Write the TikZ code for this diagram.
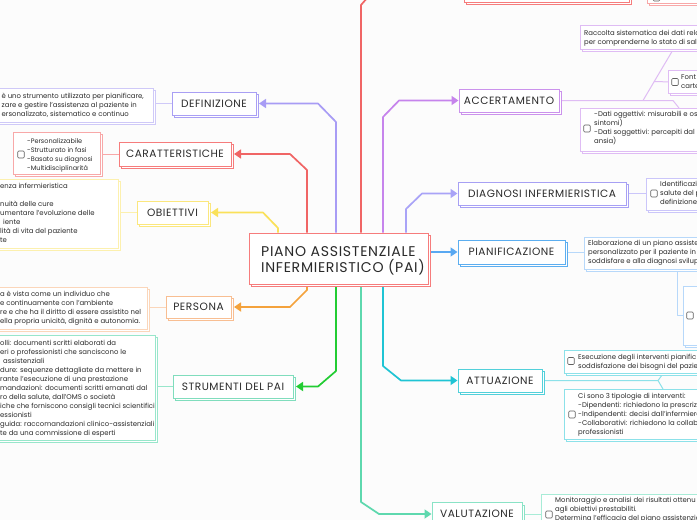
\documentclass[tikz,border=0pt]{standalone}
\usepackage{fontspec}
\setmainfont{Poppins}
\newfontfamily\labfont{Poppins}[LetterSpace=5]
\usetikzlibrary{arrows.meta,shadows,backgrounds}
\definecolor{bgc}{HTML}{FCFCFC}
\definecolor{ink}{HTML}{2A2A2A}
\definecolor{chk}{HTML}{606060}
\definecolor{redL}{HTML}{F06565}
\definecolor{redB}{HTML}{F67C7C}
\definecolor{redD}{HTML}{F8A8A8}
\definecolor{lavL}{HTML}{A89CF5}
\definecolor{lavB}{HTML}{A99FF4}
\definecolor{lavD}{HTML}{CFC9F8}
\definecolor{yelL}{HTML}{FAE15A}
\definecolor{yelB}{HTML}{FBE77E}
\definecolor{yelD}{HTML}{FCF0AE}
\definecolor{oraL}{HTML}{F4A23C}
\definecolor{oraB}{HTML}{F8BE92}
\definecolor{oraD}{HTML}{FBD6BA}
\definecolor{grnL}{HTML}{22CC33}
\definecolor{mntB}{HTML}{80DDBD}
\definecolor{mntD}{HTML}{98E6CB}
\definecolor{valL}{HTML}{5ED8AE}
\definecolor{valB}{HTML}{8AE3C6}
\definecolor{valD}{HTML}{A8ECD7}
\definecolor{cyaL}{HTML}{1FC4D4}
\definecolor{cyaB}{HTML}{52D0DA}
\definecolor{cyaD}{HTML}{8CE1E9}
\definecolor{bluL}{HTML}{58A8F2}
\definecolor{bluB}{HTML}{5CAEF0}
\definecolor{bluD}{HTML}{B7D8FA}
\definecolor{dlaL}{HTML}{A9A3F7}
\definecolor{dlaB}{HTML}{A7A0F4}
\definecolor{dlaD}{HTML}{CBC6FA}
\definecolor{orcL}{HTML}{C684EC}
\definecolor{orcB}{HTML}{CB92EC}
\definecolor{orcD}{HTML}{DFBCF4}
\newcommand\mlines[2][6.9]{\parbox[t]{420pt}{\raggedright\fontsize{#1}{9}\selectfont #2}}
\tikzset{
  lab/.style={draw=#1, fill=white, line width=1pt, inner sep=0, text=ink,
    font=\labfont\fontsize{10.6}{12}\selectfont,
    general shadow={shadow xshift=2.5pt, shadow yshift=-2.5pt, draw=#1, fill=white, line width=1pt}},
  det/.style={draw=#1, fill=white, line width=0.8pt, inner sep=0, anchor=north west,
    general shadow={shadow xshift=2pt, shadow yshift=-2pt, draw=#1, fill=white, line width=0.8pt}},
  txt/.style={anchor=base west, inner sep=0, text=ink},
  chkbox/.style={draw=chk, fill=white, line width=0.6pt, rounded corners=1pt, minimum width=6.5pt, minimum height=7pt, inner sep=0},
  mainline/.style={line width=1.7pt, line join=round},
  conn/.style={mainline, -{Triangle[length=7pt,width=9pt]}},
  sub/.style={line width=1pt, line join=round},
}
\begin{document}
\begin{tikzpicture}[x=1pt,y=-1pt]
\useasboundingbox (0,0) rectangle (697,520);

% central node
\node[lab=redB, minimum width=179pt, minimum height=51pt] (pai) at (338.5,258.5) {};
\node[txt] (paitxt) at (261,256) {\parbox[t]{300pt}{\raggedright\labfont\fontsize{14.1}{16}\selectfont PIANO ASSISTENZIALE\\INFERMIERISTICO (PAI)}};

% branch labels
\node[lab=lavB, minimum width=84pt, minimum height=23pt] (def) at (214,103.5) {DEFINIZIONE};
\node[lab=redB, minimum width=112pt, minimum height=24pt] (car) at (175,154) {CARATTERISTICHE};
\node[lab=yelB, minimum width=71pt, minimum height=23pt] (obi) at (172.5,212.5) {OBIETTIVI};
\node[lab=oraB, minimum width=65pt, minimum height=22pt] (per) at (198.5,307) {PERSONA};
\node[lab=mntB, minimum width=120pt, minimum height=23pt] (str) at (233,386.5) {STRUMENTI DEL PAI};
\node[lab=orcB, minimum width=100pt, minimum height=23pt] (acc) at (509,100.5) {ACCERTAMENTO};
\node[lab=dlaB, minimum width=168pt, minimum height=23pt] (dia) at (542,193.5) {DIAGNOSI INFERMIERISTICA};
\node[lab=bluB, minimum width=107pt, minimum height=24pt] (pia) at (511.5,252) {PIANIFICAZIONE};
\node[lab=cyaB, minimum width=84pt, minimum height=23pt] (att) at (500,380.5) {ATTUAZIONE};
\node[lab=valB, minimum width=90pt, minimum height=23pt] (val) at (477,514) {VALUTAZIONE};

% top partial boxes
\node[det=redB, minimum width=165pt, minimum height=25pt] (topa) at (464,-23) {};
\node[det=redD, minimum width=60pt, minimum height=26pt] (topb) at (647,-23) {};
\node[chkbox] (topbc) at (656.5,-2.5) {};

% left detail boxes
\node[det=lavD, minimum width=158pt, minimum height=34pt] (defd) at (-5,88) {};
\node[txt] (defdt) at (1.5,98) {\mlines{è uno strumento utilizzato per pianificare,\\zare e gestire l'assistenza al paziente in\\ersonalizzato, sistematico e continuo}};

\node[det=redD, minimum width=87pt, minimum height=42pt] (card) at (13,132) {};
\node[chkbox] (cardc) at (21,154.5) {};
\node[txt] (cardt) at (27,143) {\mlines[6.5]{-Personalizzabile\\-Strutturato in fasi\\-Basato su diagnosi\\-Multidisciplinarità}};

\node[det=yelD, minimum width=123pt, minimum height=69pt] (obid) at (-5,179) {};
\node[txt] (obidt) at (0,188.5) {\mlines{enza infermieristica\\\mbox{}\\nuità delle cure\\umentare l'evoluzione delle\\\hspace*{3pt}iente\\lità di vita del paziente\\te}};

\node[det=oraD, minimum width=152pt, minimum height=42pt] (perd) at (-5,287) {};
\node[txt] (perdt) at (0,296.5) {\mlines{a è vista come un individuo che\\e continuamente con l'ambiente\\re e che ha il diritto di essere assistito nel\\ella propria unicità, dignità e autonomia.}};

\node[det=mntD, minimum width=160pt, minimum height=105pt] (strd) at (-5,335) {};
\node[txt] (strdt) at (0,345.5) {\mlines{olli: documenti scritti elaborati da\\eri o professionisti che sanciscono le\\\hspace*{3pt}assistenziali\\dure: sequenze dettagliate da mettere in\\rante l'esecuzione di una prestazione\\mandazioni: documenti scritti emanati dal\\ro della salute, dall'OMS o società\\iche che forniscono consigli tecnici scientifici\\essionisti\\guida: raccomandazioni clinico-assistenziali\\te da una commissione di esperti}};

% right detail boxes
\node[det=orcD, minimum width=130pt, minimum height=24pt] (acc1) at (580,25) {};
\node[txt] (acc1t) at (584,35.5) {\mlines{Raccolta sistematica dei dati rela\\per comprenderne lo stato di sal}};
\node[det=orcD, minimum width=50pt, minimum height=23pt] (acc2) at (668,70) {};
\node[chkbox] (acc2c) at (675,82) {};
\node[txt] (acc2t) at (681,79.5) {\mlines{Font\\carte}};
\node[det=orcD, minimum width=130pt, minimum height=43pt] (acc3) at (580,108) {};
\node[chkbox] (acc3c) at (587,128.5) {};
\node[txt] (acc3t) at (594,116.5) {\mlines{-Dati oggettivi: misurabili e os\\sintomi)\\-Dati soggettivi: percepiti dal p\\ansia)}};

\node[det=dlaD, minimum width=70pt, minimum height=32pt] (diad) at (646,178) {};
\node[chkbox] (diadc) at (654,193.5) {};
\node[txt] (diadt) at (660,186.5) {\mlines{Identificazi\\salute del p\\definizione}};

\node[det=bluD, minimum width=130pt, minimum height=32pt] (pia1) at (584,237) {};
\node[txt] (pia1t) at (588,245.5) {\mlines{Elaborazione di un piano assiste\\personalizzato per il paziente in\\soddisfare e alla diagnosi svilup}};
\node[det=bluD, minimum width=30pt, minimum height=59pt] (pia2) at (683,286) {};
\node[chkbox] (pia2c) at (690,315.5) {};

\node[det=cyaD, minimum width=150pt, minimum height=23pt] (att1) at (564,350) {};
\node[chkbox] (att1c) at (571,361) {};
\node[txt] (att1t) at (578,359.5) {\mlines{Esecuzione degli interventi pianific\\soddisfazione dei bisogni del pazie}};
\node[det=cyaD, minimum width=150pt, minimum height=50pt] (att2) at (564,389) {};
\node[chkbox] (att2c) at (572,414.5) {};
\node[txt] (att2t) at (578,398.5) {\mlines{Ci sono 3 tipologie di interventi:\\-Dipendenti: richiedono la prescrizi\\-Indipendenti: decisi dall'infermiere\\-Collaborativi: richiedono la collab\\professionisti}};

\node[det=valD, minimum width=170pt, minimum height=50pt] (vald) at (541,494) {};
\node[chkbox] (valdc) at (549,514.5) {};
\node[txt] (valdt) at (555,502.5) {\mlines{Monitoraggio e analisi dei risultati ottenu\\agli obiettivi prestabiliti.\\Determina l'efficacia del piano assistenzia}};

\begin{pgfonlayer}{background}
\fill[bgc] (0,0) rectangle (697,520);
% main connectors
\coordinate (defA) at (336,122); \coordinate (defB) at (318,103.5);
\draw[conn, lavL] (pai.north -| defA) -- (defA) -- (defB) -- ([xshift=2.5pt]def.east);
\coordinate (carA) at (307,170); \coordinate (carB) at (290,154);
\draw[conn, redL] (pai.north -| carA) -- (carA) -- (carB) -- ([xshift=2.5pt]car.east);
\coordinate (obiA) at (278,228); \coordinate (obiB) at (263,212.5);
\draw[conn, yelL] (pai.north -| obiA) -- (obiA) -- (obiB) -- ([xshift=2.5pt]obi.east);
\coordinate (topA) at (361,5); \coordinate (topB) at (368,-3);
\draw[mainline, redL] (pai.north -| topA) -- (topA) -- (topB);
\coordinate (accA) at (383,117); \coordinate (accB) at (399,100.5);
\draw[conn, orcL] (pai.north -| accA) -- (accA) -- (accB) -- (acc.west);
\coordinate (diaA) at (406,209); \coordinate (diaB) at (422,193.5);
\draw[conn, dlaL] (pai.north -| diaA) -- (diaA) -- (diaB) -- (dia.west);
\draw[conn, bluL] (pai.east |- pia.west) -- (pia.west);
\coordinate (attA) at (383,366); \coordinate (attB) at (401,380.5);
\draw[conn, cyaL] (pai.south -| attA) -- (attA) -- (attB) -- (att.west);
\coordinate (valA) at (361,502); \coordinate (valB) at (379,514);
\draw[conn, valL] (pai.south -| valA) -- (valA) -- (valB) -- (val.west);
\coordinate (strA) at (336,371); \coordinate (strB) at (318,386.5);
\draw[conn, grnL] (pai.south -| strA) -- (strA) -- (strB) -- ([xshift=2.5pt]str.east);
\coordinate (perA) at (307,290); \coordinate (perB) at (290,307);
\draw[conn, oraL] (pai.south -| perA) -- (perA) -- (perB) -- ([xshift=2.5pt]per.east);
% sub connectors
\draw[sub, lavD] (defd.east |- def.west) -- (def.west);
\draw[sub, redD] (card.east |- car.west) -- (car.west);
\draw[sub, yelD] (obid.east |- obi.west) -- (obi.west);
\draw[sub, oraD] (perd.east |- per.west) -- (per.west);
\draw[sub, mntD] (strd.east |- str.west) -- (str.west);
\coordinate (accJ) at (643,100.5); \coordinate (accE) at (673,100.5); \coordinate (accM) at (653.8,81.5);
\draw[sub, orcD] (acc.east) -- (accE) -- ([xshift=99pt]acc3.north west);
\draw[sub, orcD] (accJ) -- ([xshift=93pt]acc1.south west);
\draw[sub, orcD] (accM) -- (acc2.west);
\draw[sub, dlaD] (dia.east) -- (diad.west |- dia.east);
\draw[sub, bluD] (pia.east) -- (pia1.west |- pia.east);
\coordinate (piaJ) at (677,315.5);
\draw[sub, bluD] ([xshift=93pt]pia1.south west) -- (piaJ) -- (pia2.west |- piaJ);
\coordinate (attJ) at (658,380.5);
\draw[sub, cyaD] (att.east) -- (attJ) -- ([xshift=99pt]att1.south west);
\draw[sub, cyaD] (attJ) -- ([xshift=99pt]att2.north west);
\draw[sub, valD] (val.east) -- (vald.west |- val.east);
\end{pgfonlayer}
\end{tikzpicture}
\end{document}
